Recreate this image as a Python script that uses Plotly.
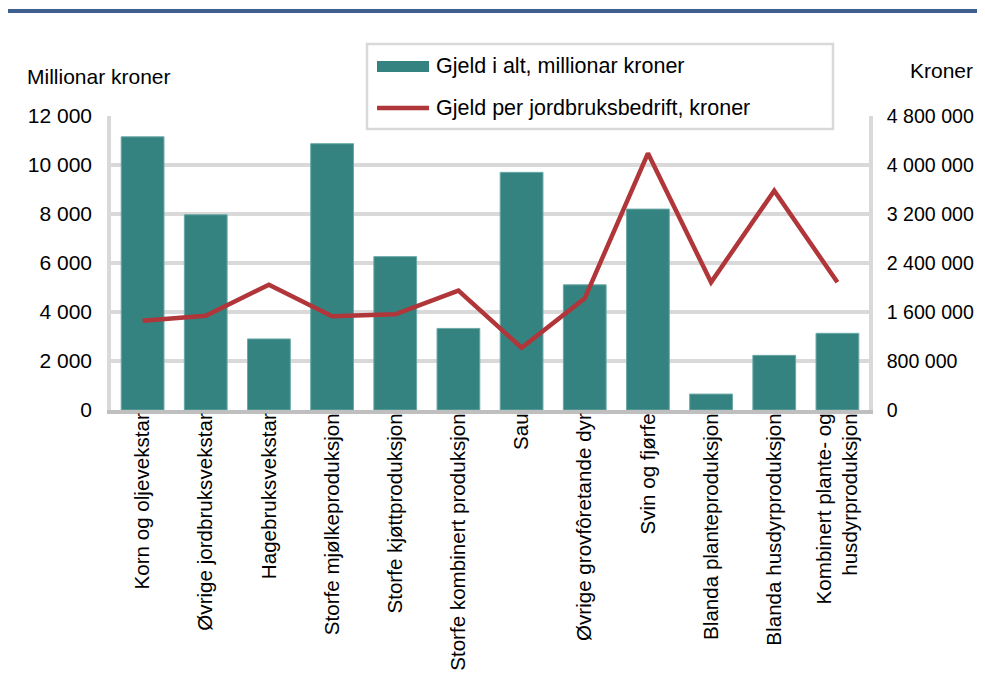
import plotly.graph_objects as go

categories = [
    "Korn og oljevekstar",
    "Øvrige jordbruksvekstar",
    "Hagebruksvekstar",
    "Storfe mjølkeproduksjon",
    "Storfe kjøttproduksjon",
    "Storfe kombinert produksjon",
    "Sau",
    "Øvrige grovfôretande dyr",
    "Svin og fjørfe",
    "Blanda planteproduksjon",
    "Blanda husdyrproduksjon",
    "Kombinert plante- og<br>husdyrproduksjon",
]
gjeld_total = [11150, 7970, 2900, 10870, 6260, 3330, 9700, 5110, 8200, 650, 2230, 3130]
gjeld_per_bedrift = [1458000, 1540000, 2046000, 1530000, 1562000, 1948000,
                     1017000, 1823000, 4191000, 2085000, 3581000, 2085000]

left_ticks = [0, 2000, 4000, 6000, 8000, 10000, 12000]
right_ticks = [0, 800000, 1600000, 2400000, 3200000, 4000000, 4800000]

name_total = "Gjeld i alt, millionar kroner"
name_per = "Gjeld per jordbruksbedrift, kroner"

FONT = "Liberation Sans, Arial, sans-serif"
BAR = "#358380"
LINE = "#b0363a"
GRID = "#d9d9d9"

fig = go.Figure()
fig.add_trace(go.Bar(
    x=categories, y=gjeld_total, name=name_total,
    marker=dict(color=BAR, line=dict(color="#6aa9a6", width=1)),
    yaxis="y", showlegend=False,
))
fig.add_trace(go.Scatter(
    x=categories, y=gjeld_per_bedrift, name=name_per,
    mode="lines", line=dict(color=LINE, width=4.5),
    yaxis="y2", showlegend=False,
))

# the page places the figure 8 px from the top-left corner of the window
OFF = 8
W, H = 969, 671
L, R, T, B = 103, 108, 108, 269
pw, ph = W - L - R, H - T - B


def fx(xs):
    """window pixel x -> paper x"""
    return (xs - OFF - L) / pw


def fy(ys):
    """window pixel y -> paper y"""
    return (H - B - (ys - OFF)) / ph


fig.update_layout(
    width=W, height=H, autosize=False,
    template="none",
    margin=dict(l=L, r=R, t=T, b=B, pad=0, autoexpand=False),
    paper_bgcolor="white", plot_bgcolor="white",
    font=dict(family=FONT, size=21, color="#000000"),
    separators=", ",
    bargap=0.323,
    showlegend=False,
    xaxis=dict(
        type="category", tickangle=-90, showgrid=False, automargin=False,
        showline=True, linecolor="#bfbfbf", linewidth=4,
        ticks="", ticklabelstandoff=-9,
        tickfont=dict(family=FONT, size=20.6, color="#000000"),
    ),
    yaxis=dict(
        range=[0, 12000], tickvals=left_ticks, tickformat=",d", automargin=False,
        showgrid=True, gridcolor=GRID, gridwidth=3.5,
        showline=True, linecolor=GRID, linewidth=3.5,
        zeroline=False, ticks="", ticklabelstandoff=11,
        tickfont=dict(family=FONT, size=21, color="#000000"),
    ),
    yaxis2=dict(
        range=[0, 4800000], tickvals=right_ticks, tickformat=",d", automargin=False,
        overlaying="y", side="right", showgrid=False,
        showline=True, linecolor=GRID, linewidth=3.5,
        zeroline=False, ticks="", ticklabelstandoff=10,
        tickfont=dict(family=FONT, size=19.6, color="#000000"),
    ),
    shapes=[
        dict(type="line", xref="paper", yref="paper",
             x0=fx(3), x1=fx(990), y0=fy(11), y1=fy(11),
             line=dict(color="#3f5f8f", width=4)),
        # legend box
        dict(type="rect", xref="paper", yref="paper", layer="above",
             x0=fx(367), x1=fx(833), y0=fy(129), y1=fy(44),
             fillcolor="white", line=dict(color=GRID, width=2.5)),
        dict(type="rect", xref="paper", yref="paper", layer="above",
             x0=fx(377), x1=fx(429), y0=fy(72), y1=fy(61),
             fillcolor=BAR, line=dict(width=0)),
        dict(type="line", xref="paper", yref="paper", layer="above",
             x0=fx(377), x1=fx(429), y0=fy(108), y1=fy(108),
             line=dict(color=LINE, width=4.5)),
    ],
    annotations=[
        dict(text=name_total, xref="paper", yref="paper",
             x=fx(434), y=fy(66), xanchor="left", yanchor="middle",
             showarrow=False, font=dict(family=FONT, size=21.5, color="#000000")),
        dict(text=name_per, xref="paper", yref="paper",
             x=fx(434), y=fy(108), xanchor="left", yanchor="middle",
             showarrow=False, font=dict(family=FONT, size=21.5, color="#000000")),
        dict(text="Millionar kroner", xref="paper", yref="paper",
             x=fx(25), y=fy(76), xanchor="left", yanchor="middle",
             showarrow=False, font=dict(family=FONT, size=21, color="#000000")),
        dict(text="Kroner", xref="paper", yref="paper",
             x=fx(975), y=fy(70), xanchor="right", yanchor="middle",
             showarrow=False, font=dict(family=FONT, size=21, color="#000000")),
    ],
)

fig.write_html("out.html")
